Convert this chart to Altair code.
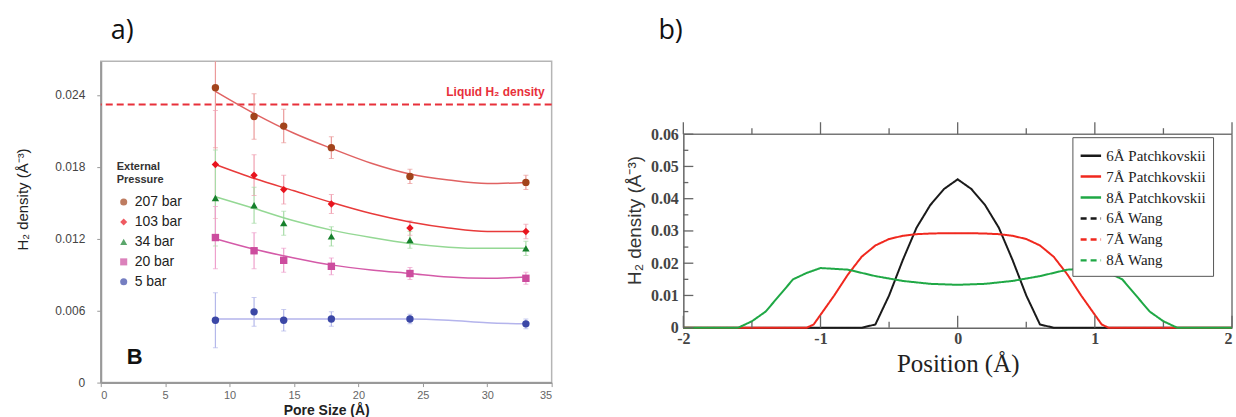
import altair as alt
import pandas as pd

# ---------------- panel a) data ----------------
pore_size = [8.9, 11.9, 14.2, 17.9, 24.0, 33.0]
series_a = ["207 bar", "103 bar", "34 bar", "20 bar", "5 bar"]
dens_207 = [0.0246, 0.0222, 0.0214, 0.0196, 0.0172, 0.0167]
dens_103 = [0.0182, 0.0173, 0.0161, 0.0149, 0.0129, 0.0126]
dens_34 = [0.0154, 0.0148, 0.0133, 0.0122, 0.0119, 0.0112]
dens_20 = [0.0121, 0.0110, 0.0102, 0.0097, 0.0091, 0.0087]
dens_5 = [0.0052, 0.0059, 0.0052, 0.0053, 0.0053, 0.0049]
err_207 = [0.0050, 0.0019, 0.0014, 0.0009, 0.0006, 0.0006]
err_103 = [0.0045, 0.0017, 0.0012, 0.0008, 0.0006, 0.0006]
err_34 = [0.0040, 0.0015, 0.0010, 0.0008, 0.0007, 0.0006]
err_20 = [0.0026, 0.0015, 0.0010, 0.0007, 0.0005, 0.0005]
err_5 = [0.0023, 0.0012, 0.0009, 0.0006, 0.0004, 0.0004]

fit_x = [8.9, 12, 15, 18, 21, 24, 27, 30, 33]
fit_207 = [0.0243, 0.0224, 0.0208, 0.0195, 0.0183, 0.0174, 0.0169, 0.0166, 0.0167]
fit_103 = [0.0182, 0.0170, 0.0160, 0.0150, 0.0141, 0.0134, 0.0129, 0.0126, 0.0126]
fit_34 = [0.0155, 0.0145, 0.0135, 0.0127, 0.0121, 0.0116, 0.0113, 0.0112, 0.0112]
fit_20 = [0.0120, 0.0111, 0.0104, 0.0098, 0.0094, 0.0091, 0.0088, 0.0087, 0.0088]
fit_5 = [0.0053, 0.0053, 0.0053, 0.0053, 0.0053, 0.0053, 0.0052, 0.0050, 0.0049]

liquid_density = [0.0232]
y_ticks_a = [0, 0.006, 0.012, 0.018, 0.024]
x_ticks_a = [0, 5, 10, 15, 20, 25, 30, 35]

# ---------------- panel b) data ----------------
series_b = ["6Å Patchkovskii", "7Å Patchkovskii", "8Å Patchkovskii",
            "6Å Wang", "7Å Wang", "8Å Wang"]
pos_6 = [-2, -0.7, -0.6, -0.5, -0.4, -0.3, -0.2, -0.1, 0, 0.1, 0.2, 0.3, 0.4, 0.5, 0.6, 0.7, 2]
den_6 = [0, 0, 0.001, 0.010, 0.021, 0.031, 0.038, 0.043, 0.046, 0.043, 0.038, 0.031, 0.021,
         0.010, 0.001, 0, 0]
pos_7 = [-2, -1.1, -1.05, -1.0, -0.9, -0.8, -0.7, -0.6, -0.5, -0.4, -0.3, -0.2, -0.1, 0,
         0.1, 0.2, 0.3, 0.4, 0.5, 0.6, 0.7, 0.8, 0.9, 1.0, 1.05, 1.1, 2]
den_7 = [0, 0, 0.001, 0.004, 0.010, 0.0165, 0.022, 0.0255, 0.0275, 0.0285, 0.029, 0.0292,
         0.0293, 0.0293, 0.0293, 0.0292, 0.029, 0.0285, 0.0275, 0.0255, 0.022, 0.0165, 0.010,
         0.004, 0.001, 0, 0]
pos_8 = [-2, -1.6, -1.5, -1.4, -1.3, -1.2, -1.1, -1.0, -0.8, -0.6, -0.4, -0.2, 0, 0.2, 0.4,
         0.6, 0.8, 1.0, 1.1, 1.2, 1.3, 1.4, 1.5, 1.6, 2]
den_8 = [0, 0, 0.002, 0.005, 0.010, 0.015, 0.017, 0.0185, 0.018, 0.016, 0.0145, 0.0136,
         0.0133, 0.0136, 0.0145, 0.016, 0.018, 0.0185, 0.017, 0.015, 0.010, 0.005, 0.002, 0, 0]
x_major_b = [-2, -1, 0, 1, 2]
x_minor_b = [-1.5, -0.5, 0.5, 1.5]
y_major_b = [0, 0.01, 0.02, 0.03, 0.04, 0.05, 0.06]
y_minor_b = [0.005, 0.015, 0.025, 0.035, 0.045, 0.055]
y_top_b = [0.06]
x_right_b = [2]

# ---------------- styles ----------------
pt_colors = ["#a3441c", "#e8141e", "#16802c", "#cc4c9e", "#3b47a6"]
err_colors = ["#eb9a9a", "#f0a0b0", "#a8dca8", "#eea0cc", "#b4b8ea"]
fit_colors = ["#e06262", "#e83a3a", "#94d894", "#d45aa8", "#b4b4ec"]
shapes = ["circle", "diamond", "triangle-up", "square", "circle"]
line_colors = ["#1a1a1a", "#f0281e", "#1fa845", "#1a1a1a", "#f0281e", "#1fa845"]
dashes = [[1, 0], [1, 0], [1, 0], [6, 4], [6, 4], [6, 4]]

SANS = "Liberation Sans"
SERIF = "Liberation Serif"

# ---------------- build tables ----------------
dens_all = [dens_207, dens_103, dens_34, dens_20, dens_5]
err_all = [err_207, err_103, err_34, err_20, err_5]
fit_all = [fit_207, fit_103, fit_34, fit_20, fit_5]
rows = []
for s, d, e, ec in zip(series_a, dens_all, err_all, err_colors):
    for x, v, ee in zip(pore_size, d, e):
        rows.append({"pore": x, "dens": v, "lo": v - ee, "hi": v + ee, "pressure": s, "ec": ec})
df_a = pd.DataFrame(rows)
fit_rows = []
for s, f, fc in zip(series_a, fit_all, fit_colors):
    for x, v in zip(fit_x, f):
        fit_rows.append({"pore": x, "dens": v, "pressure": s, "fc": fc})
df_fit = pd.DataFrame(fit_rows)
df_liq = pd.DataFrame({"dens": liquid_density})

b_rows = []
for s, p, d in zip(series_b[:3], [pos_6, pos_7, pos_8], [den_6, den_7, den_8]):
    for x, v in zip(p, d):
        b_rows.append({"pos": x, "dens": v, "model": s})
df_b = pd.DataFrame(b_rows)

# ---------------- panel a) ----------------
W_A, H_A = 452, 322
xs_a = alt.Scale(domain=[0, 35], nice=False)
ys_a = alt.Scale(domain=[0, 0.0268], nice=False)
x_axis_a = alt.Axis(values=x_ticks_a, title="Pore Size (Å)", titleFont=SANS, titleFontSize=14,
                    titleFontWeight="bold", titleColor="#222", titlePadding=3,
                    labelFont=SANS, labelFontSize=11, labelColor="#666", labelPadding=3,
                    tickSize=4, tickColor="#999", domainColor="#999", domainWidth=2, grid=False)
y_axis_a = alt.Axis(values=y_ticks_a, title="H₂ density (Å⁻³)", titleFont=SANS, titleFontSize=15,
                    titleFontWeight="normal", titleColor="#222", titlePadding=24, titleY=138,
                    labelFont=SANS, labelFontSize=12, labelColor="#444", labelPadding=12,
                    labelExpr="datum.value == 0 ? '0' : format(datum.value, '.3f')",
                    tickSize=4, tickColor="#999", domainColor="#999", domainWidth=2, grid=False)

base_a = alt.Chart(df_a)
liq_rule = alt.Chart(df_liq).mark_rule(color="#e8303a", strokeDash=[7, 4], strokeWidth=2).encode(
    y=alt.Y("dens:Q", scale=ys_a, axis=y_axis_a))
liq_text = alt.Chart(df_liq).mark_text(text="Liquid H₂ density", color="#e8303a", font=SANS,
                                      fontSize=12, fontWeight="bold", align="right",
                                      baseline="middle").encode(
    x=alt.value(445), y=alt.value(31))
err = base_a.mark_rule(strokeWidth=1.2, clip=True).encode(
    x=alt.X("pore:Q", scale=xs_a, axis=x_axis_a),
    y=alt.Y("lo:Q", scale=ys_a, axis=y_axis_a), y2="hi:Q",
    color=alt.Color("ec:N", scale=None))
cap_lo = base_a.mark_tick(orient="horizontal", size=5, thickness=1, clip=True).encode(
    x=alt.X("pore:Q", scale=xs_a, axis=x_axis_a),
    y=alt.Y("lo:Q", scale=ys_a, axis=y_axis_a),
    color=alt.Color("ec:N", scale=None))
cap_hi = base_a.mark_tick(orient="horizontal", size=5, thickness=1, clip=True).encode(
    x=alt.X("pore:Q", scale=xs_a, axis=x_axis_a),
    y=alt.Y("hi:Q", scale=ys_a, axis=y_axis_a),
    color=alt.Color("ec:N", scale=None))
fit = alt.Chart(df_fit).mark_line(interpolate="monotone", strokeWidth=1.5).encode(
    x=alt.X("pore:Q", scale=xs_a, axis=x_axis_a),
    y=alt.Y("dens:Q", scale=ys_a, axis=y_axis_a),
    color=alt.Color("fc:N", scale=None),
    detail="pressure:N")
legend_a = alt.Legend(title=["External", "Pressure"], titleFont=SANS, titleFontSize=11,
                      titleFontWeight="bold", titleColor="#333", titlePadding=10,
                      labelFont=SANS, labelFontSize=14, labelColor="#222",
                      symbolSize=50, rowPadding=6, orient="none", legendX=16, legendY=100,
                      padding=0)
pts = base_a.mark_point(filled=True, size=55, opacity=1).encode(
    x=alt.X("pore:Q", scale=xs_a, axis=x_axis_a),
    y=alt.Y("dens:Q", scale=ys_a, axis=y_axis_a),
    color=alt.Color("pressure:N", scale=alt.Scale(domain=series_a, range=pt_colors),
                    legend=legend_a, sort=series_a),
    shape=alt.Shape("pressure:N", scale=alt.Scale(domain=series_a, range=shapes),
                    legend=legend_a, sort=series_a))
b_text = alt.Chart(df_liq).mark_text(text="B", font=SANS, fontSize=22, fontWeight="bold",
                                    color="#111", align="center", baseline="middle").encode(
    x=alt.value(34), y=alt.value(296))

panel_a = alt.layer(liq_rule, err, cap_lo, cap_hi, fit, pts, liq_text, b_text).properties(
    width=W_A, height=H_A,
    title=alt.TitleParams("a)", anchor="start", frame="group", dx=10, fontSize=27,
                          font="Open Sans", fontWeight="normal", color="#111", offset=16),
    view=alt.ViewBackground(stroke="#b5b5b5", strokeWidth=1.5))

# ---------------- panel b) ----------------
W_B, H_B, TOP_B = 550, 267, 73   # plot frame spans pixel rows TOP_B..H_B of this cell
xs_b = alt.Scale(domain=[-2, 2], nice=False)
ys_b = alt.Scale(domain=[0, 0.06], nice=False, range=[H_B, TOP_B])
x_axis_b = alt.Axis(values=x_major_b, title="Position (Å)", titleFont=SERIF, titleFontSize=25,
                    titleFontWeight="normal", titleColor="#222", titlePadding=5,
                    labelFont=SERIF, labelFontSize=16, labelFontWeight="bold", labelColor="#444",
                    labelPadding=3, labelExpr="datum.value + ''", ticks=False, tickSize=0,
                    labelAlign={"condition": {"test": "datum.value == 2", "value": "right"},
                                "value": "center"},
                    domainColor="#666", domainWidth=1.5, grid=False)
y_axis_b = alt.Axis(values=y_major_b, title="H₂ density (Å⁻³)", titleFont=SANS, titleFontSize=19,
                    titleFontWeight="normal", titleColor="#333", titlePadding=6, titleY=159,
                    labelFont=SERIF, labelFontSize=16, labelFontWeight="bold", labelColor="#444",
                    labelPadding=5, labelExpr="datum.value + ''", ticks=False, tickSize=0,
                    domainColor="#666", domainWidth=1.5, grid=False)
legend_b = alt.Legend(title=None, orient="none", legendX=390, legendY=76, strokeColor="#555",
                      fillColor="white", padding=7, symbolType="stroke", symbolSize=420,
                      symbolStrokeWidth=2.5, labelFont=SERIF, labelFontSize=15,
                      labelColor="#222", rowPadding=1)
lines = alt.Chart(df_b).mark_line(strokeWidth=2).encode(
    x=alt.X("pos:Q", scale=xs_b, axis=x_axis_b),
    y=alt.Y("dens:Q", scale=ys_b, axis=y_axis_b),
    color=alt.Color("model:N", scale=alt.Scale(domain=series_b, range=line_colors),
                    legend=legend_b, sort=series_b),
    strokeDash=alt.StrokeDash("model:N", scale=alt.Scale(domain=series_b, range=dashes),
                              legend=legend_b, sort=series_b))

df_xmaj = pd.DataFrame({"t": x_major_b})
df_xmin = pd.DataFrame({"t": x_minor_b})
df_ymaj = pd.DataFrame({"t": y_major_b})
df_ymin = pd.DataFrame({"t": y_minor_b})
df_top = pd.DataFrame({"t": y_top_b})
df_right = pd.DataFrame({"t": x_right_b, "lo": [0], "hi": y_top_b})


def xtick(df, y0, y1):
    return alt.Chart(df).mark_rule(color="#666", strokeWidth=1.3).encode(
        x=alt.X("t:Q", scale=xs_b, axis=x_axis_b), y=alt.value(y0), y2=alt.value(y1))


def ytick(df, length):
    return alt.Chart(df).mark_rule(color="#666", strokeWidth=1.3).encode(
        y=alt.Y("t:Q", scale=ys_b, axis=y_axis_b), x=alt.value(0), x2=alt.value(length))


frame_top = alt.Chart(df_top).mark_rule(color="#777", strokeWidth=1.5).encode(
    y=alt.Y("t:Q", scale=ys_b, axis=y_axis_b))
frame_right = alt.Chart(df_right).mark_rule(color="#777", strokeWidth=1.5).encode(
    x=alt.X("t:Q", scale=xs_b, axis=x_axis_b),
    y=alt.Y("lo:Q", scale=ys_b, axis=y_axis_b), y2="hi:Q")

tick_layers = [
    xtick(df_xmaj, H_B, H_B - 12), xtick(df_xmin, H_B, H_B - 6),
    xtick(df_xmaj, TOP_B, TOP_B - 12), xtick(df_xmin, TOP_B, TOP_B - 6),
    ytick(df_ymaj, 10), ytick(df_ymin, 5),
]

panel_b = alt.layer(frame_top, frame_right, lines, *tick_layers).properties(
    width=W_B, height=H_B,
    title=alt.TitleParams("b)", anchor="start", frame="group", dx=-25, fontSize=27,
                          font="Open Sans", fontWeight="normal", color="#111", offset=16),
    view=alt.ViewBackground(strokeWidth=0))

chart = alt.hconcat(panel_a, panel_b, spacing=72).resolve_scale(
    color="independent", shape="independent", strokeDash="independent").properties(
    padding={"left": 15, "top": 16, "right": 0, "bottom": 0},
    background="white")

chart.save("out.html", embed_options={"renderer": "svg", "actions": False})
